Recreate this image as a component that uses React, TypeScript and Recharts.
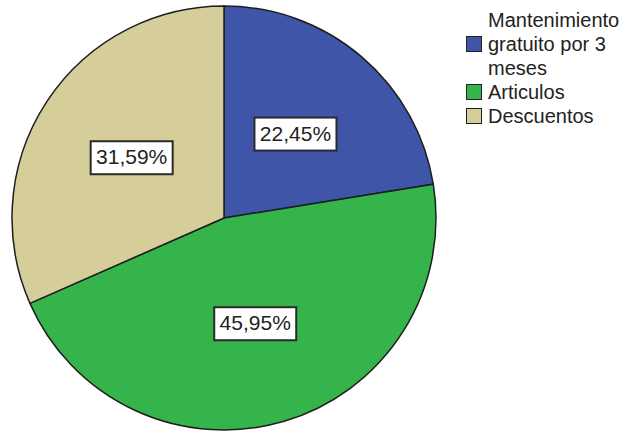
import { PieChart, Pie, Cell, Legend } from "recharts";

const categories = ["Mantenimiento gratuito por 3 meses", "Articulos", "Descuentos"];
const legendLines = [["Mantenimiento", "gratuito por 3", "meses"], ["Articulos"], ["Descuentos"]];
const values = [22.45, 45.95, 31.59];
const labels = ["22,45%", "45,95%", "31,59%"];
const colors = ["#3F55A7", "#34B44A", "#D5CD9A"];

const data = categories.map((name, i) => ({ name, value: values[i], label: labels[i] }));

const RAD = Math.PI / 180;
const FONT = "'Liberation Sans', Arial, sans-serif";

function renderLabel(props: any) {
  const { cx, cy, midAngle, outerRadius, index } = props;
  const r = outerRadius * 0.52;
  const x = cx + r * Math.cos(-midAngle * RAD);
  const y = cy + r * Math.sin(-midAngle * RAD);
  const w = 82;
  const h = 33;
  return (
    <g>
      <rect x={x - w / 2} y={y - h / 2} width={w} height={h} fill="#fff" stroke="#2a2a2a" strokeWidth={2} />
      <text x={x} y={y + 1} textAnchor="middle" dominantBaseline="middle" fontSize={21} fontFamily={FONT} fill="#222">
        {data[index].label}
      </text>
    </g>
  );
}

function LegendBox() {
  return (
    <div style={{ fontFamily: FONT, fontSize: 20, lineHeight: "24px", color: "#222" }}>
      {legendLines.map((lines, i) => (
        <div key={i} style={{ position: "relative", paddingLeft: 22 }}>
          {lines.map((t, j) => (
            <div key={j} style={{ whiteSpace: "nowrap" }}>{t}</div>
          ))}
          <span
            style={{
              position: "absolute",
              left: 0,
              top: (lines.length - 1) * 12 + 4,
              width: 14,
              height: 14,
              background: colors[i],
              border: "1.5px solid #222",
            }}
          />
        </div>
      ))}
    </div>
  );
}

export default function App() {
  return (
    <div style={{ position: "absolute", left: 0, top: 0, width: 626, height: 432, background: "#fff" }}>
      <PieChart width={626} height={432} margin={{ top: 0, right: 0, bottom: 0, left: 0 }}>
        <Pie
          data={data}
          dataKey="value"
          nameKey="name"
          cx={224}
          cy={218}
          outerRadius={212}
          startAngle={90}
          endAngle={-270}
          stroke="#1e1e1e"
          strokeWidth={1.5}
          label={renderLabel}
          labelLine={false}
          isAnimationActive={false}
        >
          {data.map((d, i) => (
            <Cell key={d.name} fill={colors[i]} />
          ))}
        </Pie>
        <Legend
          content={() => <LegendBox />}
          wrapperStyle={{ position: "absolute", left: 466, top: 8, width: 158 }}
        />
      </PieChart>
    </div>
  );
}
